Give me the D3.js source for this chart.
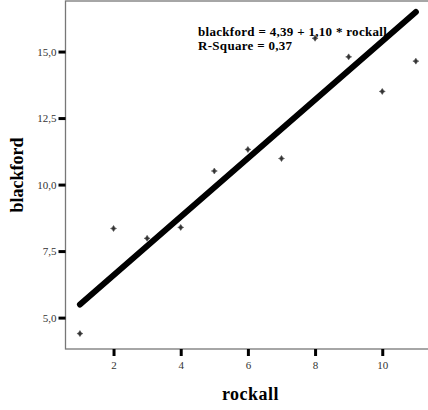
<!DOCTYPE html>
<html>
<head>
<meta charset="utf-8">
<script src="https://cdn.jsdelivr.net/npm/d3@7"></script>
<style>
  html, body { margin: 0; padding: 0; background: #fff; }
  svg { display: block; }
</style>
</head>
<body>
<svg id="chart" width="428" height="410"></svg>
<script>
// rockall vs blackford observations
const rockall   = [1, 2, 3, 4, 5, 6, 7, 8, 9, 10, 11];
const blackford = [4.40, 8.35, 7.98, 8.39, 10.51, 11.32, 10.98, 15.50, 14.80, 13.50, 14.64];

// fitted linear model
const intercept = 4.39;
const slope = 1.10;
const rSquare = 0.37;

const xTicks = [2, 4, 6, 8, 10];
const yTicks = [5.0, 7.5, 10.0, 12.5, 15.0];

const fmt = v => v.toFixed(2).replace(".", ",");
const fmtTick = v => v.toFixed(1).replace(".", ",");

const svg = d3.select("#chart");
const serif = "'Liberation Serif', 'Times New Roman', serif";

const plot = { left: 65.5, right: 436, top: 1, bottom: 349 };

const x = d3.scaleLinear().domain([0.57, 11.6]).range([plot.left, plot.right]);
const y = d3.scaleLinear().domain([3.82, 16.9]).range([plot.bottom, plot.top]);

// plot frame
svg.append("rect")
  .attr("x", plot.left).attr("y", plot.top)
  .attr("width", plot.right - plot.left).attr("height", plot.bottom - plot.top)
  .attr("fill", "none").attr("stroke", "#777").attr("stroke-width", 1.3);

// axes
const xAxis = d3.axisBottom(x).tickValues(xTicks).tickSize(7).tickPadding(5).tickFormat(d3.format("d"));
const yAxis = d3.axisLeft(y).tickValues(yTicks).tickSize(7).tickPadding(2).tickFormat(fmtTick);

const gx = svg.append("g").attr("transform", `translate(0,${plot.bottom})`).call(xAxis);
const gy = svg.append("g").attr("transform", `translate(${plot.left},0)`).call(yAxis);

[gx, gy].forEach(g => {
  g.select(".domain").remove();
  g.selectAll(".tick line").attr("stroke", "#000").attr("stroke-width", 3);
  g.selectAll(".tick text")
    .attr("fill", "#333")
    .style("font-family", serif)
    .style("font-size", "11px");
});

// regression line
svg.append("line")
  .attr("x1", x(1)).attr("y1", y(intercept + slope * 1))
  .attr("x2", x(11)).attr("y2", y(intercept + slope * 11))
  .attr("stroke", "#000").attr("stroke-width", 6).attr("stroke-linecap", "round");

// observation markers
const marker = "M0,-3L1.6,-0.6L3,0L1.6,0.6L0,3L-1.6,0.6L-3,0L-1.6,-0.6Z";
svg.append("g").selectAll("path")
  .data(rockall.map((r, i) => [r, blackford[i]]))
  .join("path")
  .attr("d", marker)
  .attr("transform", d => `translate(${x(d[0])},${y(d[1])})`)
  .attr("fill", "#333").attr("stroke", "#555").attr("stroke-width", 0.6);

// fit annotation
const note = svg.append("g")
  .style("font-family", serif).style("font-size", "13px").style("font-weight", "bold")
  .style("letter-spacing", "0.3px")
  .attr("fill", "#000");
note.append("text").attr("x", 198).attr("y", 36)
  .text(`blackford = ${fmt(intercept)} + ${fmt(slope)} * rockall`);
note.append("text").attr("x", 198).attr("y", 50)
  .text(`R-Square = ${fmt(rSquare)}`);

// axis titles
svg.append("text")
  .attr("x", 250.5).attr("y", 400)
  .attr("text-anchor", "middle")
  .style("font-family", serif).style("font-size", "18px").style("font-weight", "bold")
  .style("letter-spacing", "0.5px")
  .text("rockall");

svg.append("text")
  .attr("transform", "translate(23,175) rotate(-90)")
  .attr("text-anchor", "middle")
  .style("font-family", serif).style("font-size", "18px").style("font-weight", "bold")
  .text("blackford");
</script>
</body>
</html>
